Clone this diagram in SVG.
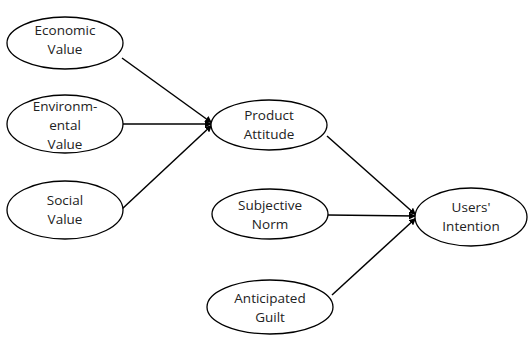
<svg xmlns="http://www.w3.org/2000/svg" width="528" height="337" viewBox="0 0 528 337">
<defs>
<style>
.n{fill:#fff;stroke:#000;stroke-width:1.3}
.t{font-family:"Open Sans","Liberation Sans",sans-serif;font-size:13.5px;fill:#222;text-anchor:middle}
.c{stroke:#000;stroke-width:1.5;fill:none;marker-end:url(#ah)}
</style>
<marker id="ah" viewBox="0 0 10 10" refX="10" refY="5" markerWidth="7" markerHeight="7" markerUnits="userSpaceOnUse" orient="auto"><path d="M0,0 L10,5 L0,10 z" fill="#000"/></marker>
</defs>
<rect width="528" height="337" fill="#fff"/>
<g id="connectors">
<line class="c" x1="122" y1="58" x2="212" y2="123"/>
<line class="c" x1="123" y1="124" x2="212" y2="124"/>
<line class="c" x1="122" y1="209" x2="212" y2="125"/>
<line class="c" x1="327" y1="136" x2="416" y2="215"/>
<line class="c" x1="328" y1="215" x2="416" y2="216"/>
<line class="c" x1="332" y1="295" x2="416" y2="218"/>
</g>
<g id="economic"><ellipse class="n" cx="65" cy="43" rx="58" ry="26"/><text class="t" x="65" y="35">Economic</text><text class="t" x="65" y="54">Value</text></g>
<g id="environmental"><ellipse class="n" cx="65" cy="124" rx="58" ry="29"/><text class="t" x="65" y="111">Environm-</text><text class="t" x="65" y="130">ental</text><text class="t" x="65" y="149">Value</text></g>
<g id="social"><ellipse class="n" cx="65" cy="210" rx="58" ry="29"/><text class="t" x="65" y="205">Social</text><text class="t" x="65" y="224">Value</text></g>
<g id="product"><ellipse class="n" cx="269" cy="125" rx="58" ry="25"/><text class="t" x="269" y="120">Product</text><text class="t" x="269" y="139">Attitude</text></g>
<g id="subjective"><ellipse class="n" cx="270" cy="214" rx="58" ry="25"/><text class="t" x="270" y="210">Subjective</text><text class="t" x="270" y="229">Norm</text></g>
<g id="guilt"><ellipse class="n" cx="270" cy="307" rx="63" ry="27"/><text class="t" x="270" y="303">Anticipated</text><text class="t" x="270" y="322">Guilt</text></g>
<g id="users"><ellipse class="n" cx="471" cy="217" rx="56" ry="29"/><text class="t" x="471" y="212">Users'</text><text class="t" x="471" y="231">Intention</text></g>
</svg>
